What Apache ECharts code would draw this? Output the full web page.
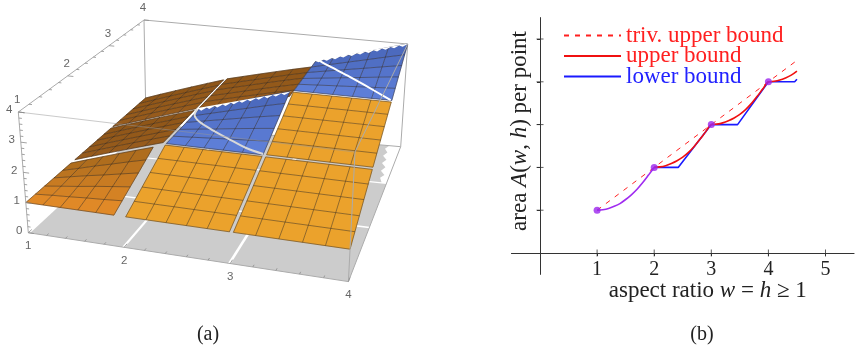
<!DOCTYPE html>
<html><head><meta charset="utf-8">
<script src="https://cdn.jsdelivr.net/npm/echarts@6/dist/echarts.min.js"></script>
<style>html,body{margin:0;padding:0;background:#fff}#c{width:855px;height:346px}</style></head>
<body><div id="c"></div>
<script>
// ---------- panel (b) data ----------
const ticksB = [1,2,3,4,5];
const trivX = [1,4.5], trivY = [1,4.5];
const upperX = [2,2.1,2.2,2.3,2.4,2.5,2.6,2.7,2.8,2.9,3,3.1,3.2,3.3,3.4,3.5,3.6,3.7,3.8,3.9,4,4.1,4.2,4.3,4.4,4.5];
const upperY = [2,2.012,2.04,2.09,2.155,2.24,2.35,2.49,2.655,2.83,3,3.012,3.04,3.09,3.155,3.24,3.35,3.49,3.655,3.83,4,4.012,4.04,4.09,4.155,4.25];
const lowerX = [2,2.42,3,3.46,4,4.46,4.5];
const lowerY = [2,2,3,3,4,4,4.06];
const purpleX = [1,1.1,1.2,1.3,1.4,1.5,1.6,1.7,1.8,1.9,2];
const purpleY = [1,1.012,1.04,1.09,1.155,1.25,1.36,1.49,1.645,1.82,2];
const dotsX = [1,2,3,4], dotsY = [1,2,3,4];

// ---------- panel (a) data: mesh nodes and heights of the nine patches ----------
const col1 = [1,1.18,1.36,1.54,1.72,1.90], col1b = [1,1.194,1.388,1.582,1.776,1.97], col2 = [2.015,2.21,2.40,2.59,2.78,2.98], col2b = [2.01,2.2,2.39,2.58,2.77,2.97], col3 = [3.015,3.21,3.41,3.61,3.80,4];
const row1 = [1,1.19,1.38,1.58,1.77,1.96], row1b = [1,1.2,1.39,1.59,1.79,1.985], row2 = [2.015,2.21,2.40,2.60,2.79,2.985], row2b = [2.05,2.23,2.41,2.6,2.78,2.97], row3 = [3.02,3.22,3.41,3.61,3.80,4];
const z11 = [[1,1,1,1,1,1],[1,1.04,1.07,1.11,1.14,1.18],[1,1.07,1.14,1.22,1.29,1.36],[1,1.11,1.22,1.32,1.43,1.54],[1,1.14,1.29,1.43,1.58,1.72],[1,1.18,1.36,1.54,1.72,1.90]];
const z21 = [[1,1,1,1,1,1],[1.2,1.2,1.2,1.2,1.2,1.2],[1.39,1.39,1.39,1.39,1.39,1.39],[1.59,1.59,1.59,1.59,1.59,1.59],[1.79,1.79,1.79,1.79,1.79,1.79],[1.985,1.985,1.985,1.985,1.985,1.985]];
const z31 = z21;
const z12 = [[1,1.194,1.388,1.582,1.776,1.97],[1,1.194,1.388,1.582,1.776,1.97],[1,1.194,1.388,1.582,1.776,1.97],[1,1.194,1.388,1.582,1.776,1.97],[1,1.194,1.388,1.582,1.776,1.97],[1,1.194,1.388,1.582,1.776,1.97]];
const z22 = [[2,2,2,2,2,2],[2,2.04,2.08,2.12,2.16,2.2],[2,2.08,2.16,2.24,2.32,2.4],[2,2.12,2.24,2.36,2.48,2.6],[2,2.16,2.32,2.48,2.64,2.8],[2,2.2,2.4,2.6,2.8,3]];
const z32 = [[2.015,2.015,2.015,2.015,2.015,2.015],[2.21,2.21,2.21,2.21,2.21,2.21],[2.4,2.4,2.4,2.4,2.4,2.4],[2.6,2.6,2.6,2.6,2.6,2.6],[2.79,2.79,2.79,2.79,2.79,2.79],[2.985,2.985,2.985,2.985,2.985,2.985]];
const z13 = z12;
const z23 = [[2.02,2.17,2.32,2.47,2.62,2.77],[2.02,2.17,2.32,2.47,2.62,2.77],[2.02,2.17,2.32,2.47,2.62,2.77],[2.02,2.17,2.32,2.47,2.62,2.77],[2.02,2.17,2.32,2.47,2.62,2.77],[2.02,2.17,2.32,2.47,2.62,2.77]];
const z33 = [[3,3,3,3,3,3],[3,3.04,3.08,3.12,3.16,3.2],[3,3.08,3.16,3.24,3.32,3.4],[3,3.12,3.24,3.36,3.48,3.6],[3,3.16,3.32,3.48,3.64,3.8],[3,3.2,3.4,3.6,3.8,4]];
// seams across the diagonal patches: [x, y, z]
const seam22 = [[2.0,2.98,2.0],[2.06,2.72,2.12],[2.2,2.46,2.26],[2.4,2.26,2.3],[2.6,2.13,2.25],[2.8,2.05,2.12],[2.98,2.02,2.02]];
const seam33 = [[3.03,4,3.1],[3.15,3.72,3.3],[3.3,3.5,3.4],[3.5,3.3,3.4],[3.7,3.15,3.3],[3.99,3.01,3.02]];
// shadow rectangles on the floor
const floorCols = [[1.02,1.98],[2.005,2.98],[3.005,4]];
const floorRows = [[1,1.985],[2.015,2.985]];
const floorBack = [[1.02,3.015,1.02,4],[2.005,3.015,2.005,4]];
// outline of the shadow under the far blue patch, with its rough right side
const floorFar = [[3.005,3.015],[3.95,3.015],[3.92,3.12],[3.95,3.2],[3.9,3.3],[3.93,3.4],[3.88,3.5],[3.91,3.6],[3.86,3.7],[3.89,3.8],[3.85,3.9],[3.88,4],[3.005,4]];
// scalloped back edge of the blue patches
const scallop = [0,.05,0,.05,0,.05,0,.05,0,.05,0,.05,0,.05,0,.05,0,.05,0,.05,0,.05,0];
// axis ticks of the box
const tickMajor = [1,2,3,4], zMajor = [0,1,2,3,4];
const tickMinor = [1.2,1.4,1.6,1.8,2.2,2.4,2.6,2.8,3.2,3.4,3.6,3.8];
const zMinor = [.2,.4,.6,.8,1.2,1.4,1.6,1.8,2.2,2.4,2.6,2.8,3.2,3.4,3.6,3.8];

// ---------- projection of the box onto the page ----------
const botQuad = [[28.3,232.7],[348.4,281.6],[400.7,146.7],[146,124]];
const topQuad = [[18.3,112],[355,152],[407.7,44],[144,20]];
function squareToQuad(q){
  const [p0,p1,p2,p3]=q;
  const dx1=p1[0]-p2[0],dx2=p3[0]-p2[0],sx=p0[0]-p1[0]+p2[0]-p3[0];
  const dy1=p1[1]-p2[1],dy2=p3[1]-p2[1],sy=p0[1]-p1[1]+p2[1]-p3[1];
  const den=dx1*dy2-dx2*dy1;
  const g=(sx*dy2-dx2*sy)/den,h=(dx1*sy-sx*dy1)/den;
  const a=p1[0]-p0[0]+g*p1[0],b=p3[0]-p0[0]+h*p3[0],c=p0[0];
  const d=p1[1]-p0[1]+g*p1[1],e=p3[1]-p0[1]+h*p3[1],f=p0[1];
  return (u,v)=>{const w=g*u+h*v+1;return [(a*u+b*v+c)/w,(d*u+e*v+f)/w];};
}
const hBot=squareToQuad(botQuad),hTop=squareToQuad(topQuad);
function proj(x,y,z){
  const u=(x-1)/3,v=(y-1)/3,a=hBot(u,v),b=hTop(u,v),t=z/4;
  return [a[0]+(b[0]-a[0])*t,a[1]+(b[1]-a[1])*t];
}
function mix(a,b,t){
  const p=s=>[1,3,5].map(i=>parseInt(s.substr(i,2),16));
  const A=p(a),B=p(b);
  return 'rgb('+A.map((c,i)=>Math.round(c+(B[i]-c)*t)).join(',')+')';
}
const MESH='rgba(45,35,25,0.62)';
const base={type:'custom',xAxisIndex:0,yAxisIndex:0,silent:true,animation:false,clip:false,z:2};

function patch(name,xs,ys,zs,front,back){
  const data=[];
  for(let j=0;j<5;j++)for(let i=0;i<5;i++)data.push([0,i,j]);
  for(let k=0;k<6;k++){data.push([1,k,0]);data.push([2,k,0]);}
  return Object.assign({},base,{name,data,renderItem(p,api){
    const kind=api.value(0),a=api.value(1),b=api.value(2);
    const P=(i,j)=>api.coord(proj(xs[i],ys[j],zs[j][i]));
    if(kind===0){
      const col=mix(front,back,(b+.5)/5);
      return {type:'polygon',shape:{points:[P(a,b),P(a+1,b),P(a+1,b+1),P(a,b+1)]},style:{fill:col,stroke:col,lineWidth:.5}};
    }
    const pts=[];
    for(let t=0;t<6;t++)pts.push(kind===1?P(a,t):P(t,a));
    return {type:'polyline',shape:{points:pts},style:{stroke:MESH,lineWidth:.75,fill:null}};
  }});
}
function polyline3(name,pts,color,width){
  return Object.assign({},base,{name,data:[[0,0]],renderItem(p,api){
    return {type:'polyline',shape:{points:pts.map(q=>api.coord(proj(q[0],q[1],q[2]))),smooth:.3},style:{stroke:color,lineWidth:width,fill:null}};
  }});
}
function floorSeries(){
  const rects=[];
  floorRows.forEach(r=>floorCols.forEach(c=>rects.push([[c[0],r[0]],[c[1],r[0]],[c[1],r[1]],[c[0],r[1]]])));
  floorBack.forEach(b=>rects.push([[b[0],b[1]],[b[0]+.96,b[1]],[b[0]+.96,b[3]],[b[2],b[3]]]));
  rects.push(floorFar);
  return Object.assign({},base,{name:'floor shadow',data:rects.map((_,i)=>[i,0]),renderItem(p,api){
    const pts=rects[api.value(0)].map(q=>api.coord(proj(q[0],q[1],0)));
    return {type:'polygon',shape:{points:pts},style:{fill:'#cccccc'}};
  }});
}
function edges(name,list,color,width){
  return Object.assign({},base,{name,data:list.map((_,i)=>[i,0]),renderItem(p,api){
    const e=list[api.value(0)],s=api.coord(proj(...e[0])),t=api.coord(proj(...e[1]));
    return {type:'line',shape:{x1:s[0],y1:s[1],x2:t[0],y2:t[1]},style:{stroke:color,lineWidth:width}};
  }});
}
function scallopMask(name,x0,x1,yb,z0,z1){
  return Object.assign({},base,{name,data:[[0,0]],renderItem(p,api){
    const pts=[],n=scallop.length-1;
    scallop.forEach((d,i)=>{const t=i/n;pts.push(api.coord(proj(x0+(x1-x0)*t,yb-d,z0+(z1-z0)*t-d*0.5)));});
    pts.push(api.coord(proj(x1+.02,yb+.03,z1)));pts.push(api.coord(proj(x0-.02,yb+.03,z0)));
    return {type:'polygon',shape:{points:pts},style:{fill:'#ffffff'}};
  }});
}
function labels3(name,items,dx,dy){
  return Object.assign({},base,{name,data:items.map((_,i)=>[i,0]),renderItem(p,api){
    const it=items[api.value(0)],c=api.coord(proj(it[0],it[1],it[2]));
    return {type:'text',style:{text:String(it[3]),x:c[0]+dx,y:c[1]+dy,fill:'#666666',font:'11.5px "Liberation Sans"',align:'center',verticalAlign:'middle'}};
  }});
}
const backEdges=[[[1,4,0],[4,4,0]],[[1,4,0],[1,4,4]],[[4,4,0],[4,4,4]],[[1,4,4],[4,4,4]],[[1,1,4],[1,4,4]]];
const frontEdges=[[[1,1,0],[4,1,0]],[[4,1,0],[4,4,0]],[[1,1,0],[1,1,4]],[[4,1,0],[4,1,4]],[[4,1,4],[4,4,4]]];
const seeThrough=[[[1,1,4],[4,1,4]]];
const tickSegs=[];
tickMajor.forEach(v=>{tickSegs.push([[v,1,0],[v,1.07,0]]);tickSegs.push([[1,v,4],[1.06,v,4]]);});
tickMinor.forEach(v=>{tickSegs.push([[v,1,0],[v,1.04,0]]);tickSegs.push([[1,v,4],[1.03,v,4]]);});
zMajor.forEach(v=>tickSegs.push([[1,1,v],[1.06,1,v]]));
zMinor.forEach(v=>tickSegs.push([[1,1,v],[1.03,1,v]]));

const ORANGE='#eba22c', BROWN_F='#985c1c', BROWN_B='#8e5518';
const leftSeries=[
  floorSeries(),
  edges('back edges',backEdges,'#ababab',1),
  patch('patch 1-3',col1b,row3,z13,BROWN_F,BROWN_B),
  patch('patch 2-3',col2b,row3,z23,BROWN_F,BROWN_B),
  patch('patch 3-3',col3,row3,z33,'#5f80da','#4a67bb'),
  scallopMask('scallop 3-3',3.015,4,4,3.015,4),
  polyline3('seam 3-3',seam33,'#ffffff',2),
  patch('patch 1-2',col1b,row2b,z12,BROWN_F,BROWN_B),
  patch('patch 2-2',col2,row2,z22,'#5f80da','#4a67bb'),
  scallopMask('scallop 2-2',2.015,2.98,2.985,2.015,2.98),
  polyline3('seam 2-2',seam22,'#d8d8d8',2),
  patch('patch 3-2',col3,row2,z32,ORANGE,ORANGE),
  patch('patch 1-1',col1,row1,z11,'#e68c28','#a9691c'),
  patch('patch 2-1',col2,row1b,z21,ORANGE,ORANGE),
  patch('patch 3-1',col3,row1b,z31,ORANGE,ORANGE),
  edges('front edges',frontEdges,'#ababab',1),
  edges('front top edge',seeThrough,'rgba(150,150,150,0.5)',1),
  edges('box ticks',tickSegs,'#8c8c8c',.8),
  labels3('x labels',tickMajor.map(v=>[v,1,0,v]),0,13.5),
  labels3('y labels',tickMajor.map(v=>[1,v,4,v]),-1,-12),
  labels3('z labels',zMajor.map(v=>[1,1,v,v]),-9,-2)
];

const serif='"Liberation Serif"';
const rich={r:{fontFamily:serif,fontSize:23,color:'#222'},i:{fontFamily:serif,fontSize:23,fontStyle:'italic',color:'#222'}};
const zip=(a,b)=>a.map((v,i)=>[v,b[i]]);
const option={
  animation:false,
  title:[
    {text:'(a)',left:203,top:320,textAlign:'center',textStyle:{fontFamily:serif,fontSize:20,fontWeight:'normal',color:'#222'}},
    {text:'(b)',left:697,top:320,textAlign:'center',textStyle:{fontFamily:serif,fontSize:20,fontWeight:'normal',color:'#222'}}
  ],
  legend:{orient:'vertical',left:558,top:19,itemWidth:57,itemHeight:14,itemGap:-2.5,selectedMode:false,itemStyle:{opacity:0},
    textStyle:{fontFamily:serif,fontSize:23,lineHeight:21},
    data:[{name:'triv. upper bound',textStyle:{color:'#ff2020'}},{name:'upper bound',textStyle:{color:'#ff2020'}},{name:'lower bound',textStyle:{color:'#2222ff'}}]},
  grid:[
    {left:0,top:0,width:855,height:346},
    {left:511.45,top:17.6,width:342.6,height:256.8}
  ],
  xAxis:[
    {type:'value',gridIndex:0,min:0,max:855,show:false},
    {type:'value',gridIndex:1,min:-.5,max:5.5,splitLine:{show:false},
     axisLine:{onZero:true,lineStyle:{color:'#333',width:1}},
     axisTick:{show:true,length:3,customValues:ticksB,lineStyle:{color:'#333'}},
     axisLabel:{customValues:ticksB,margin:-15,fontFamily:serif,fontSize:20,color:'#222'},
     name:'{r|aspect ratio }{i|w}{r| = }{i|h}{r| ≥ 1}',nameLocation:'middle',nameGap:5,nameMoveOverlap:false,
     nameTextStyle:{rich,padding:[0,0,0,50]}}
  ],
  yAxis:[
    {type:'value',gridIndex:0,min:0,max:346,inverse:true,show:false},
    {type:'value',gridIndex:1,min:-.5,max:5.5,splitLine:{show:false},
     axisLine:{onZero:true,lineStyle:{color:'#333',width:1}},
     axisTick:{show:true,length:3,customValues:ticksB,lineStyle:{color:'#333'}},
     axisLabel:{show:false},
     name:'{r|area }{i|A}{r|(}{i|w}{r|, }{i|h}{r|) per point}',nameLocation:'middle',nameGap:-20,nameMoveOverlap:false,
     nameTextStyle:{rich,padding:[0,0,0,30]}}
  ],
  series:leftSeries.concat([
    {type:'scatter',name:'ticks x',xAxisIndex:1,yAxisIndex:1,symbol:'rect',symbolSize:[1,7],itemStyle:{color:'#333'},data:ticksB.map(v=>[v,0]),silent:true},
    {type:'scatter',name:'ticks y',xAxisIndex:1,yAxisIndex:1,symbol:'rect',symbolSize:[7,1],itemStyle:{color:'#333'},data:ticksB.map(v=>[0,v]),silent:true},
    {type:'line',name:'triv. upper bound',xAxisIndex:1,yAxisIndex:1,data:zip(trivX,trivY),showSymbol:false,symbol:'none',lineStyle:{color:'#ff2020',width:1,type:[5,6]},itemStyle:{color:'#ff2020'},silent:true},
    {type:'line',name:'lower bound',xAxisIndex:1,yAxisIndex:1,data:zip(lowerX,lowerY),showSymbol:false,symbol:'none',lineStyle:{color:'#1a1aff',width:1.6},itemStyle:{color:'#1a1aff'},silent:true},
    {type:'line',name:'upper bound',xAxisIndex:1,yAxisIndex:1,data:zip(upperX,upperY),showSymbol:false,symbol:'none',smooth:.3,lineStyle:{color:'#f01010',width:1.6},itemStyle:{color:'#f01010'},silent:true},
    {type:'line',name:'both bounds',xAxisIndex:1,yAxisIndex:1,data:zip(purpleX,purpleY),showSymbol:false,symbol:'none',smooth:.3,lineStyle:{color:'#a02cf0',width:1.6},silent:true},
    {type:'scatter',name:'tight points',xAxisIndex:1,yAxisIndex:1,symbolSize:7,itemStyle:{color:'#9b26ee'},data:zip(dotsX,dotsY),silent:true,z:5}
  ])
};
echarts.init(document.getElementById('c'),null,{renderer:'canvas'}).setOption(option);
</script></body></html>
